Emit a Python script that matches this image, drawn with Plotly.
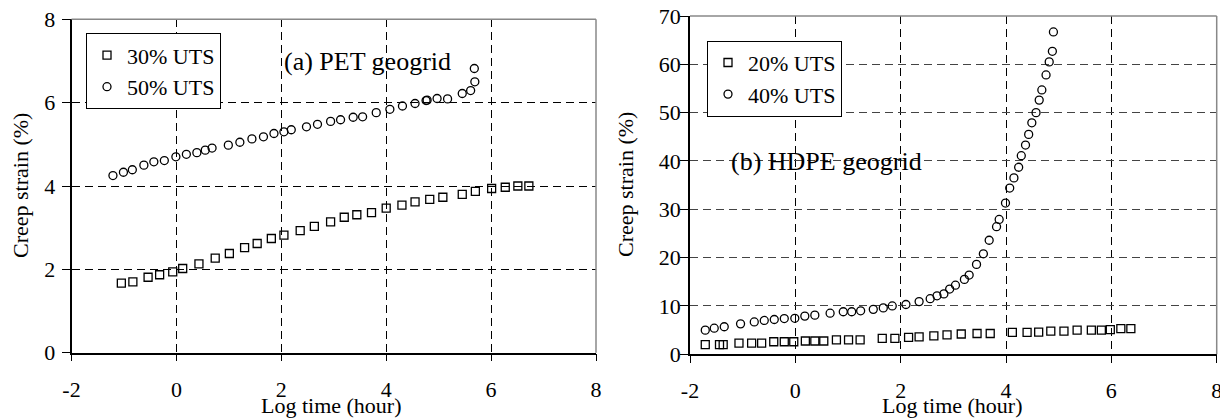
import plotly.graph_objects as go
from plotly.subplots import make_subplots

# ---- data: (a) PET geogrid ----
pet30_x = [-1.05, -0.83, -0.54, -0.32, -0.07, 0.12, 0.43, 0.74, 1.01, 1.30, 1.54, 1.81, 2.05, 2.36, 2.63,
           2.94, 3.20, 3.44, 3.72, 4.00, 4.30, 4.55, 4.83, 5.08, 5.45, 5.70, 6.01, 6.27, 6.51, 6.72]
pet30_y = [1.67, 1.70, 1.81, 1.87, 1.94, 2.02, 2.13, 2.27, 2.38, 2.52, 2.62, 2.74, 2.82, 2.93, 3.03,
           3.14, 3.25, 3.31, 3.36, 3.47, 3.54, 3.62, 3.68, 3.73, 3.80, 3.87, 3.94, 3.97, 4.00, 4.00]
pet50_x = [-1.21, -1.01, -0.84, -0.62, -0.43, -0.23, -0.01, 0.19, 0.39, 0.55, 0.68, 0.99, 1.21, 1.44, 1.66,
           1.86, 2.05, 2.19, 2.48, 2.69, 2.94, 3.13, 3.37, 3.55, 3.81, 4.07, 4.31, 4.55, 4.76, 4.78,
           4.97, 5.17, 5.45, 5.61, 5.69, 5.68]
pet50_y = [4.25, 4.33, 4.39, 4.50, 4.58, 4.61, 4.70, 4.76, 4.80, 4.86, 4.91, 4.98, 5.05, 5.13, 5.18,
           5.26, 5.30, 5.35, 5.42, 5.48, 5.55, 5.59, 5.65, 5.66, 5.76, 5.84, 5.92, 5.98, 6.05, 6.06,
           6.10, 6.09, 6.22, 6.29, 6.50, 6.82]

# ---- data: (b) HDPE geogrid ----
hdpe20_x = [-1.71, -1.44, -1.37, -1.07, -0.83, -0.64, -0.41, -0.21, -0.03, 0.19, 0.37, 0.54, 0.78, 1.01, 1.23,
            1.65, 1.89, 2.15, 2.35, 2.63, 2.88, 3.15, 3.45, 3.70, 4.12, 4.40, 4.62, 4.85, 5.10, 5.35,
            5.62, 5.81, 5.98, 6.18, 6.37]
hdpe20_y = [2.0, 2.0, 2.0, 2.3, 2.3, 2.3, 2.6, 2.6, 2.6, 2.75, 2.75, 2.75, 3.0, 3.0, 3.0,
            3.3, 3.3, 3.5, 3.6, 3.8, 4.0, 4.2, 4.3, 4.3, 4.55, 4.55, 4.6, 4.8, 4.8, 5.0,
            5.0, 5.0, 5.1, 5.3, 5.3]
hdpe40_x = [-1.71, -1.54, -1.35, -1.04, -0.78, -0.59, -0.40, -0.21, -0.01, 0.18, 0.37, 0.66, 0.91, 1.07, 1.24,
            1.48, 1.67, 1.84, 2.10, 2.35, 2.56, 2.69, 2.82, 2.93, 3.04, 3.21, 3.30, 3.44, 3.57, 3.68,
            3.82, 3.87, 3.99, 4.07, 4.15, 4.24, 4.29, 4.37, 4.43, 4.49, 4.57, 4.63, 4.68, 4.76, 4.82,
            4.88, 4.90]
hdpe40_y = [5.0, 5.4, 5.7, 6.3, 6.7, 7.0, 7.2, 7.4, 7.45, 7.9, 8.1, 8.5, 8.8, 8.8, 9.0,
            9.3, 9.6, 10.0, 10.3, 10.9, 11.5, 12.1, 12.5, 13.5, 14.3, 15.5, 16.4, 18.6, 20.8, 23.6,
            26.4, 27.9, 31.3, 34.4, 36.5, 38.7, 41.1, 43.3, 45.5, 47.9, 50.0, 52.6, 54.7, 57.8, 60.5,
            62.7, 66.7]

x_ticks = [-2, 0, 2, 4, 6, 8]
x_tick_text = ["-2", "0", "2", "4", "6", "8"]
pet_y_ticks = [0, 2, 4, 6, 8]
hdpe_y_ticks = [0, 10, 20, 30, 40, 50, 60, 70]

FONT = "Liberation Serif"
OFF = 8                      # page body margin
W, H = 1228 - OFF, 418 - OFF

def px(x):  # screen px -> paper x
    return (x - OFF) / W

def py(y):  # screen px -> paper y
    return (H - (y - OFF)) / H

fig = make_subplots(rows=1, cols=2)

def mk(x, y, name, sym, legend):
    return go.Scatter(x=x, y=y, mode="markers", name=name, legend=legend,
                      marker=dict(symbol=sym, size=8, color="black", line=dict(width=1.3, color="black")))

fig.add_trace(mk(pet30_x, pet30_y, "30% UTS", "square-open", "legend"), row=1, col=1)
fig.add_trace(mk(pet50_x, pet50_y, "50% UTS", "circle-open", "legend"), row=1, col=1)
fig.add_trace(mk(hdpe20_x, hdpe20_y, "20% UTS", "square-open", "legend2"), row=1, col=2)
fig.add_trace(mk(hdpe40_x, hdpe40_y, "40% UTS", "circle-open", "legend2"), row=1, col=2)

axcommon = dict(showline=True, linecolor="black", linewidth=1.5, ticks="outside", ticklen=8,
                tickcolor="black", tickwidth=1.2, showgrid=True, gridcolor="black", gridwidth=1,
                griddash="8px,5px", zeroline=False, automargin=False, ticklabeloverflow="allow",
                tickfont=dict(family=FONT, size=22, color="black"))

fig.update_xaxes(**axcommon)
fig.update_yaxes(**axcommon)

fig.update_layout(
    xaxis=dict(domain=[px(71.5), px(596)], range=[-2, 8], tickvals=x_ticks, ticktext=x_tick_text,
               ticklabelstandoff=9, ticklen=7),
    xaxis2=dict(domain=[px(690), px(1216.7)], range=[-2, 8], tickvals=x_ticks, ticktext=x_tick_text,
                ticklabelstandoff=9, ticklen=7),
    yaxis=dict(domain=[py(352.7), py(19.3)], range=[0, 8], tickvals=pet_y_ticks, ticklabelstandoff=2),
    yaxis2=dict(domain=[py(354.3), py(16)], range=[0, 70], tickvals=hdpe_y_ticks, ticklabelstandoff=-5,
                gridcolor="#444444"),
    width=W, height=H, margin=dict(l=0, r=0, t=0, b=0, autoexpand=False),
    paper_bgcolor="white", plot_bgcolor="white",
    font=dict(family=FONT, size=22, color="black"),
    legend=dict(x=px(86), y=py(33.3), xanchor="left", yanchor="top",
                bordercolor="black", borderwidth=1, bgcolor="white",
                font=dict(family=FONT, size=22, color="black"), tracegroupgap=0),
    legend2=dict(x=px(707), y=py(40.7), xanchor="left", yanchor="top",
                 bordercolor="black", borderwidth=1, bgcolor="white",
                 font=dict(family=FONT, size=22, color="black"), tracegroupgap=0),
    showlegend=True,
)

# gray frame on top and right of each plot
for xr, yr in [("x domain", "y domain"), ("x2 domain", "y2 domain")]:
    fig.add_shape(type="line", xref=xr, yref=yr, x0=0, x1=1, y0=1, y1=1, line=dict(color="#888888", width=1.5))
    fig.add_shape(type="line", xref=xr, yref=yr, x0=1, x1=1, y0=0, y1=1, line=dict(color="#888888", width=1.5))

ann = dict(xref="paper", yref="paper", showarrow=False, font=dict(family=FONT, size=22, color="black"))
fig.add_annotation(text="Log time (hour)", x=px(331), y=py(405), xanchor="center", yanchor="middle", **ann)
fig.add_annotation(text="Log time (hour)", x=px(952), y=py(405), xanchor="center", yanchor="middle", **ann)
fig.add_annotation(text="Creep strain (%)", x=px(20), y=py(186), textangle=-90,
                   xanchor="center", yanchor="middle", **ann)
fig.add_annotation(text="Creep strain (%)", x=px(625), y=py(185), textangle=-90,
                   xanchor="center", yanchor="middle", **ann)
ann_big = dict(ann, font=dict(family=FONT, size=26, color="black"))
fig.add_annotation(text="(a) PET geogrid", x=px(282), y=py(61), xanchor="left", yanchor="middle", **ann_big)
fig.add_annotation(text="(b) HDPE geogrid", x=px(729), y=py(161.5), xanchor="left", yanchor="middle", **ann_big)

fig.write_html("out.html")
